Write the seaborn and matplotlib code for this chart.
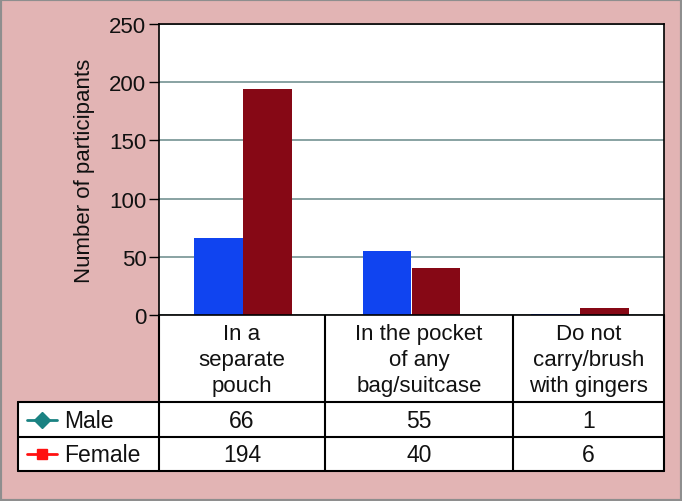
import pandas as pd
import matplotlib.pyplot as plt
import seaborn as sns
from matplotlib.lines import Line2D
from matplotlib.patches import Rectangle

sns.set_theme(style="white")
plt.rcParams['font.family'] = ['Liberation Sans', 'DejaVu Sans']

# Data
categories = ["In a\nseparate\npouch", "In the pocket\nof any\nbag/suitcase", "Do not\ncarry/brush\nwith gingers"]
male = [66, 55, 1]
female = [194, 40, 6]
series = ["Male", "Female"]
bar_colors = ["#1044f0", "#860815"]
legend_colors = ["#1a8282", "#ff1010"]
legend_markers = ["D", "s"]

df = pd.DataFrame({
    "Location": categories * 2,
    "Count": male + female,
    "Sex": ["Male"] * 3 + ["Female"] * 3,
})

W, H = 682, 502
fig = plt.figure(figsize=(W / 100, H / 100), dpi=100)
fig.patch.set_facecolor("#e2b4b4")

# axes box in pixels
ax_l, ax_r, ax_t, ax_b = 159, 664, 25, 316
ax = fig.add_axes([ax_l / W, 1 - ax_b / H, (ax_r - ax_l) / W, (ax_b - ax_t) / H])

sns.barplot(data=df, x="Location", y="Count", hue="Sex", palette=bar_colors,
            width=0.58, ax=ax, linewidth=0, saturation=1, legend=False)

ax.set_ylim(0, 250)
ax.set_xlim(-0.5, 2.5)
ax.set_yticks(range(0, 251, 50))
ax.yaxis.grid(True, color="#7f9b9b", linewidth=1.3)
ax.set_axisbelow(True)
ax.set_xticks([])
ax.set_xlabel("")
ax.set_ylabel("Number of participants", fontsize=16, labelpad=10, color="#111111")
ax.tick_params(axis="y", labelsize=16, length=7, width=1, color="black", left=True,
               pad=2, labelcolor="#111111")
for s in ax.spines.values():
    s.set_color("black")
    s.set_linewidth(1.2)
ax.set_facecolor("white")

# table drawn on an overlay in pixel coordinates
tax = fig.add_axes([0, 0, 1, 1], zorder=-1)
tax.set_xlim(0, W)
tax.set_ylim(H, 0)
tax.axis("off")
tax.patch.set_alpha(0)

col_x = [159, 325, 513, 664]
lab_l = 18
row_y = [316, 403, 438, 472]

tax.add_patch(Rectangle((col_x[0], row_y[0]), col_x[-1] - col_x[0], row_y[-1] - row_y[0],
                        facecolor="white", edgecolor="none"))
tax.add_patch(Rectangle((lab_l, row_y[1]), col_x[0] - lab_l, row_y[-1] - row_y[1],
                        facecolor="white", edgecolor="none"))

lk = dict(color="black", linewidth=1.5)
for x in col_x:
    tax.add_line(Line2D([x, x], [row_y[0], row_y[-1]], **lk))
tax.add_line(Line2D([lab_l, lab_l], [row_y[1], row_y[-1]], **lk))
for y in row_y[1:]:
    tax.add_line(Line2D([lab_l, col_x[-1]], [y, y], **lk))

# header
for i, cat in enumerate(categories):
    cx = (col_x[i] + col_x[i + 1]) / 2
    tax.text(cx, (row_y[0] + row_y[1]) / 2 + 1, cat, ha="center", va="center",
             fontsize=16, linespacing=1.32, color="#111111")

# rows with legend keys
for r, (name, vals) in enumerate(zip(series, [male, female])):
    cy = (row_y[r + 1] + row_y[r + 2]) / 2
    tax.add_line(Line2D([27, 57], [cy, cy], color=legend_colors[r], linewidth=2))
    tax.plot([42], [cy], marker=legend_markers[r], color=legend_colors[r],
             markersize=8 if r == 0 else 7, linestyle="none")
    tax.text(64, cy + 1, name, ha="left", va="center", fontsize=16.5, color="#111111")
    for i, v in enumerate(vals):
        cx = (col_x[i] + col_x[i + 1]) / 2
        tax.text(cx, cy + 1, str(v), ha="center", va="center", fontsize=16.5, color="#111111")

# outer grey frame
fig.patches.append(Rectangle((0, 0), 1, 1, transform=fig.transFigure, fill=False,
                             edgecolor="#8e8e8e", linewidth=3))

plt.savefig("out.png", dpi=100, facecolor=fig.get_facecolor())
